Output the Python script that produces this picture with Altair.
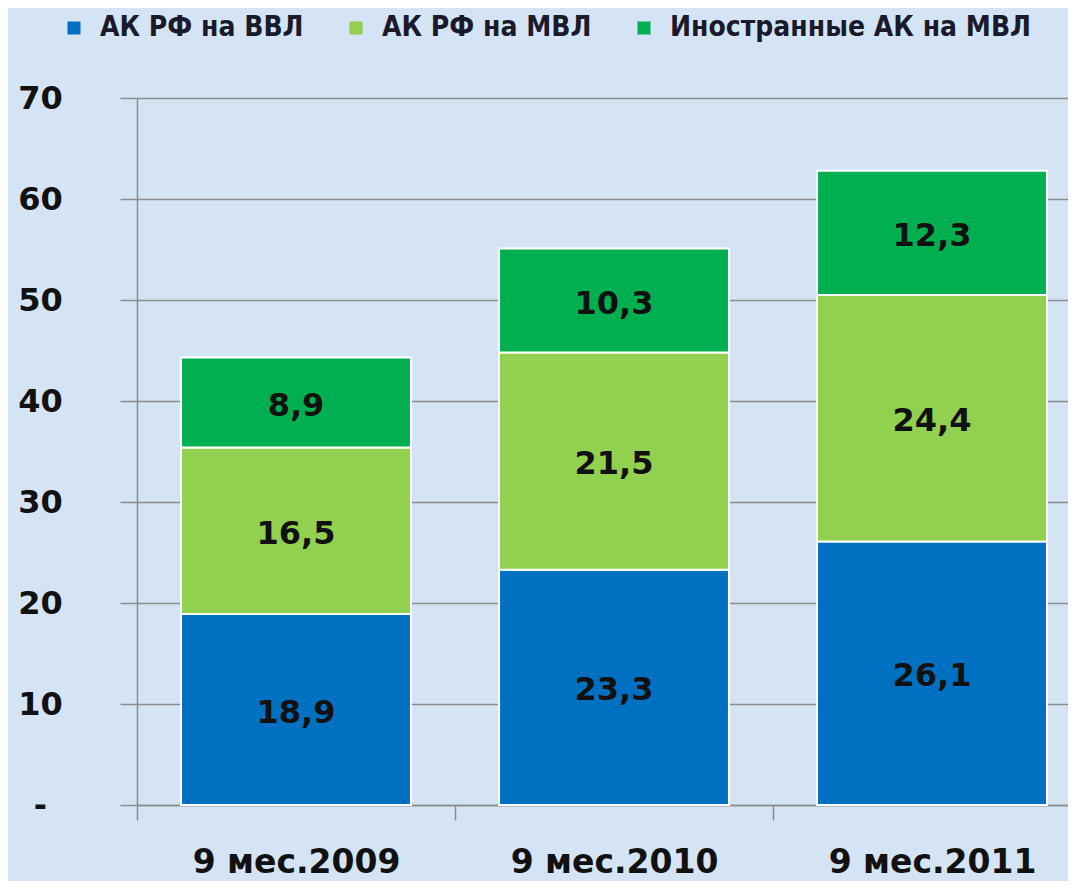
import altair as alt
import pandas as pd

periods = ["9 мес.2009", "9 мес.2010", "9 мес.2011"]
series = ["АК РФ на ВВЛ", "АК РФ на МВЛ", "Иностранные АК на МВЛ"]
vvl = [18.9, 23.3, 26.1]
mvl = [16.5, 21.5, 24.4]
foreign = [8.9, 10.3, 12.3]
colors = ["#0070C0", "#92D050", "#00B050"]
y_ticks = [0, 10, 20, 30, 40, 50, 60, 70]

rows = []
for i, p in enumerate(periods):
    for j, vals in enumerate([vvl, mvl, foreign]):
        rows.append({"period": p, "series": series[j], "value": vals[i], "order": j})
df = pd.DataFrame(rows)

W, H = 931, 707
GRID = "#8c8c8c"
FONT = "DejaVu Sans"

x_enc = alt.X(
    "period:N",
    sort=periods,
    title=None,
    scale=alt.Scale(range=[0, 954], paddingInner=0, paddingOuter=0),
    axis=alt.Axis(
        labelAngle=0,
        labelFont=FONT,
        labelFontWeight="bold",
        labelFontSize=33,
        labelColor="#111111",
        labelPadding=26,
        labelBaseline="top",
        labelLimit=500,
        tickBand="extent",
        tickSize=15,
        tickColor=GRID,
        tickWidth=1.5,
        domainColor=GRID,
        domainWidth=1.5,
        grid=False,
    ),
)

y_scale = alt.Scale(domain=[0, 70], nice=False)
y_axis = alt.Axis(
    values=y_ticks,
    labelExpr="datum.value == 0 ? '-' : datum.label",
    labelFont=FONT,
    labelFontWeight="bold",
    labelFontSize=32,
    labelColor="#111111",
    labelAlign="center",
    labelBaseline="middle",
    labelPadding=80,
    tickSize=17,
    tickColor=GRID,
    tickWidth=1.5,
    domainColor=GRID,
    domainWidth=1.5,
    grid=True,
    gridColor=GRID,
    gridWidth=1.5,
    title=None,
)

color_enc = alt.Color(
    "series:N",
    sort=series,
    scale=alt.Scale(domain=series, range=colors),
    legend=alt.Legend(
        title=None,
        orient="none",
        direction="horizontal",
        legendX=-77,
        legendY=-84,
        symbolType="square",
        symbolSize=170,
        symbolStrokeWidth=0,
        labelFont="DejaVu Sans Condensed",
        labelFontWeight="bold",
        labelFontSize=28,
        labelColor="#1a1a2a",
        labelOffset=12,
        labelLimit=600,
        columnPadding=38,
        padding=0,
    ),
)

bars = alt.Chart(df).mark_bar(
    stroke="white", strokeWidth=2, width=alt.RelativeBandSize(0.723)
).encode(
    x=x_enc,
    y=alt.Y("value:Q", stack="zero", scale=y_scale, axis=y_axis),
    color=color_enc,
    order=alt.Order("order:Q", sort="ascending"),
)

labels = (
    alt.Chart(df)
    .transform_stack(
        stack="value",
        groupby=["period"],
        as_=["y0", "y1"],
        sort=[alt.SortField("order", order="ascending")],
    )
    .transform_calculate(
        mid="(datum.y0 + datum.y1) / 2",
        label="replace(format(datum.value, '.1f'), '.', ',')",
    )
    .mark_text(font=FONT, fontWeight="bold", fontSize=32, color="#111111", dy=3)
    .encode(
        x=alt.X("period:N", sort=periods),
        y=alt.Y("mid:Q", scale=y_scale),
        text="label:N",
    )
)

chart = (
    alt.layer(bars, labels)
    .properties(
        width=W,
        height=H,
        autosize=alt.AutoSizeParams(type="none"),
        padding={"left": 129, "top": 90, "right": 0, "bottom": 76},
        background="#d4e4f5",
    )
    .configure_view(stroke=None)
)

chart.save("out.html", embed_options={"renderer": "svg", "actions": False})
